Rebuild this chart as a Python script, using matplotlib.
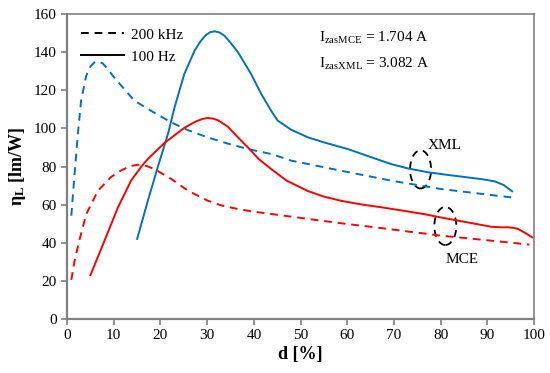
import matplotlib
matplotlib.use("Agg")
import matplotlib.pyplot as plt
from matplotlib.patches import Ellipse

plt.rcParams["font.family"] = ["Liberation Serif", "DejaVu Serif"]
plt.rcParams["mathtext.fontset"] = "custom"
plt.rcParams["mathtext.rm"] = "Liberation Serif"
plt.rcParams["mathtext.it"] = "Liberation Serif:italic"
plt.rcParams["mathtext.bf"] = "Liberation Serif:bold"

# XML, 200 kHz (dashed blue)
xml_hf_x = [0.9, 1.6, 2.3, 3.0, 4.1, 5.0, 5.8, 6.6, 7.6, 8.7, 10.0, 11.6, 14.4, 18.5, 22.3,
            26.0, 30.1, 34.5, 38.7, 43.7, 48.0, 58.7, 69.4, 80.1, 95.1]
xml_hf_y = [54.2, 76, 97, 114.6, 127.7, 132.5, 134.6, 135.2, 134.2, 131.2, 127.0, 122.5, 114.6,
            108.5, 103.2, 99.0, 95.3, 92.0, 89.2, 86.6, 83.1, 77.8, 72.6, 68.2, 63.8]

# XML, 100 Hz (solid blue)
xml_lf_x = [15.0, 17.3, 19.4, 21.6, 23.0, 25.1, 27.3, 28.5, 29.6, 30.6, 31.6, 32.6, 33.7,
            35.0, 36.6, 39.4, 41.6, 43.7, 45.1, 48.0, 51.6, 55.0, 60.1, 65.0, 69.4, 73.0,
            77.3, 81.5, 85.8, 89.0, 91.6, 93.5, 95.3]
xml_lf_y = [42, 62.1, 79.6, 97.1, 111, 128.6, 140.8, 145.5, 148.8, 150.5, 151, 150.4, 148.7,
            145.0, 140, 128.6, 118, 109.3, 104.1, 99.3, 95.3, 92.7, 89.2, 85.0, 81.3, 79.0,
            77, 75.6, 74.3, 73.3, 72.2, 70.3, 67]

# MCE, 100 Hz (solid red)
mce_lf_x = [5.0, 8.0, 10.9, 13.7, 15.9, 17.3, 20.9, 25.1, 27.5, 29.0, 30.1, 31.2, 32.3,
            34.4, 36.6, 38.7, 41.0, 43.7, 47.0, 51.6, 55.0, 58.7, 63.0, 67.3, 72.0, 76.5,
            80.0, 83.7, 87.5, 90.8, 92.8, 94.4, 95.6, 96.6, 98.2, 99.6]
mce_lf_y = [23, 41, 58.6, 72.6, 80, 84, 92.5, 100.3, 103.6, 105.0, 105.5, 105.2, 104.3,
            101.0, 95.3, 90.1, 84.0, 78.7, 72.6, 67.1, 64.2, 62, 60.1, 58.6, 56.8, 55,
            53.3, 51.6, 49.9, 48.4, 48.1, 48.1, 47.8, 47.2, 45.0, 42.8]

# MCE, 200 kHz (dashed red)
mce_hf_x = [0.9, 1.6, 2.6, 4.1, 6.6, 9.4, 11.6, 13.5, 15.3, 17.0, 18.7, 22.3, 25.9, 30.1,
            33.0, 36.6, 40.0, 43.7, 51.6, 58.7, 65.9, 73.0, 80.1, 90.0, 99.0]
mce_hf_y = [20.5, 30.5, 41, 55, 67.3, 74.5, 78.0, 80.2, 81.0, 80.3, 78.7, 73.5, 67.3, 62.1,
            59.6, 57.7, 56.3, 55.1, 52.5, 50.2, 48.1, 45.9, 43.7, 41.3, 39]

blue = "#0070C0"
red = "#FF0000"
grey = "#808080"
dash = (0, (4, 3))

fig = plt.figure(figsize=(5.5, 3.73), dpi=100)
ax = fig.add_axes([0.122, 0.145, 0.849, 0.817])

ax.plot(xml_hf_x, xml_hf_y, color=blue, lw=1.4, ls=dash)
ax.plot(xml_lf_x, xml_lf_y, color=blue, lw=1.4)
ax.plot(mce_lf_x, mce_lf_y, color=red, lw=1.4)
ax.plot(mce_hf_x, mce_hf_y, color=red, lw=1.4, ls=dash)

# legend (black samples)
h1, = ax.plot([], [], color="black", lw=1.4, ls=dash, label="200 kHz")
h2, = ax.plot([], [], color="black", lw=1.4, label="100 Hz")
ax.legend(handles=[h1, h2], loc="upper left", frameon=False, fontsize=11,
          handlelength=2.8, handletextpad=0.5, labelspacing=0.55,
          bbox_to_anchor=(0.0, 1.0))

# ellipses + labels
ax.add_patch(Ellipse((75.7, 78.5), 4.5, 20, fill=False, ls=dash, lw=1.3, color="black"))
ax.add_patch(Ellipse((81.0, 48.8), 4.7, 20, fill=False, ls=dash, lw=1.3, color="black"))
ax.text(77.2, 91, "XML", fontsize=11, va="center", ha="left")
ax.text(84.5, 31, "MCE", fontsize=11, va="center", ha="center")

ax.text(54, 147.7, r"I$_{\mathrm{zasMCE}}$ = 1.704 A", fontsize=11, va="center")
ax.text(54, 134, r"I$_{\mathrm{zasXML}}$ = 3.082 A", fontsize=11, va="center")

ax.set_xlim(0, 100)
ax.set_ylim(0, 160)
ax.set_xticks(range(0, 101, 10))
ax.set_yticks(range(0, 161, 20))
ax.tick_params(labelsize=11, color=grey, length=4, width=1.2)
for s in ax.spines.values():
    s.set_color(grey)
    s.set_linewidth(1.2)
ax.spines["left"].set_linewidth(1.6)
ax.spines["bottom"].set_linewidth(1.6)

ax.set_xlabel("d [%]", fontsize=13, fontweight="bold", labelpad=3)
ax.set_ylabel(r"η$_{\mathbf{L}}$ [lm/W]", fontsize=13, fontweight="bold", labelpad=4)

fig.savefig("out.png", dpi=100)
